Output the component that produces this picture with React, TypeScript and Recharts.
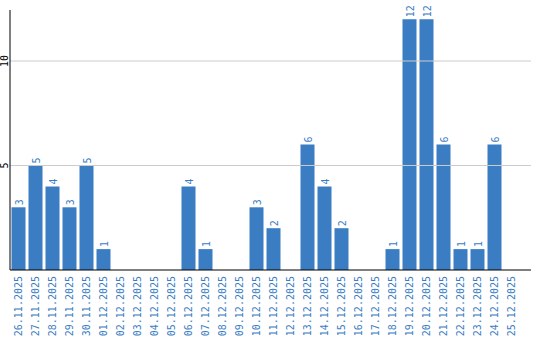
import React from "react";
import { BarChart, Bar, XAxis, YAxis, ReferenceLine, LabelList } from "recharts";

const dates = [
  "26.11.2025","27.11.2025","28.11.2025","29.11.2025","30.11.2025","01.12.2025","02.12.2025","03.12.2025","04.12.2025","05.12.2025",
  "06.12.2025","07.12.2025","08.12.2025","09.12.2025","10.12.2025","11.12.2025","12.12.2025","13.12.2025","14.12.2025","15.12.2025",
  "16.12.2025","17.12.2025","18.12.2025","19.12.2025","20.12.2025","21.12.2025","22.12.2025","23.12.2025","24.12.2025","25.12.2025",
];
const counts = [3,5,4,3,5,1,0,0,0,0,4,1,0,0,3,2,0,6,4,2,0,0,1,12,12,6,1,1,6,0];
const yTicks = [5, 10];

const data = dates.map((d, i) => ({ date: d, value: counts[i] }));

const BLUE = "#3b7dc3";
const FONT = "'DejaVu Sans Mono', monospace";

const XTick = (props: any) => {
  const { x, payload } = props;
  const tx = Math.round(x) + 4;
  const ty = 276;
  return (
    <text x={tx} y={ty} transform={`rotate(-90, ${tx}, ${ty})`} textAnchor="end" fill={BLUE} fontSize={10} fontFamily={FONT}>
      {payload.value}
    </text>
  );
};

const YTick = (props: any) => {
  const { y, payload } = props;
  const tx = 8;
  return (
    <text x={tx} y={y} transform={`rotate(-90, ${tx}, ${y})`} textAnchor="middle" fill="#000" fontSize={10} fontFamily={FONT}>
      {payload.value}
    </text>
  );
};

const BarLabel = (props: any) => {
  const { x, y, width, value } = props;
  if (!value) return null;
  const tx = Math.round(x + width / 2) + 4;
  const ty = y - 2;
  return (
    <text x={tx} y={ty} transform={`rotate(-90, ${tx}, ${ty})`} textAnchor="start" fill={BLUE} fontSize={10} fontFamily={FONT}>
      {value}
    </text>
  );
};

export default function App() {
  return (
    <div style={{ position: "absolute", left: 0, top: 0, width: 540, height: 340, background: "#fff" }}>
      <BarChart width={540} height={340} data={data} margin={{ top: 10, right: 9, left: 0, bottom: 0 }}>
        <XAxis
          dataKey="date"
          interval={0}
          height={70}
          padding={{ left: -0.5, right: 11.5 }}
          tickLine={false}
          axisLine={{ stroke: "#000" }}
          tick={<XTick />}
        />
        <YAxis
          width={10}
          domain={[0, 12.44]}
          ticks={yTicks}
          tickLine={false}
          axisLine={{ stroke: "#000" }}
          tick={<YTick />}
        />
        {yTicks.map((t) => (
          <ReferenceLine key={t} y={t} stroke="#cccccc" ifOverflow="extendDomain" />
        ))}
        <Bar dataKey="value" fill={BLUE} barSize={14} isAnimationActive={false}>
          <LabelList dataKey="value" content={<BarLabel />} />
        </Bar>
      </BarChart>
    </div>
  );
}
